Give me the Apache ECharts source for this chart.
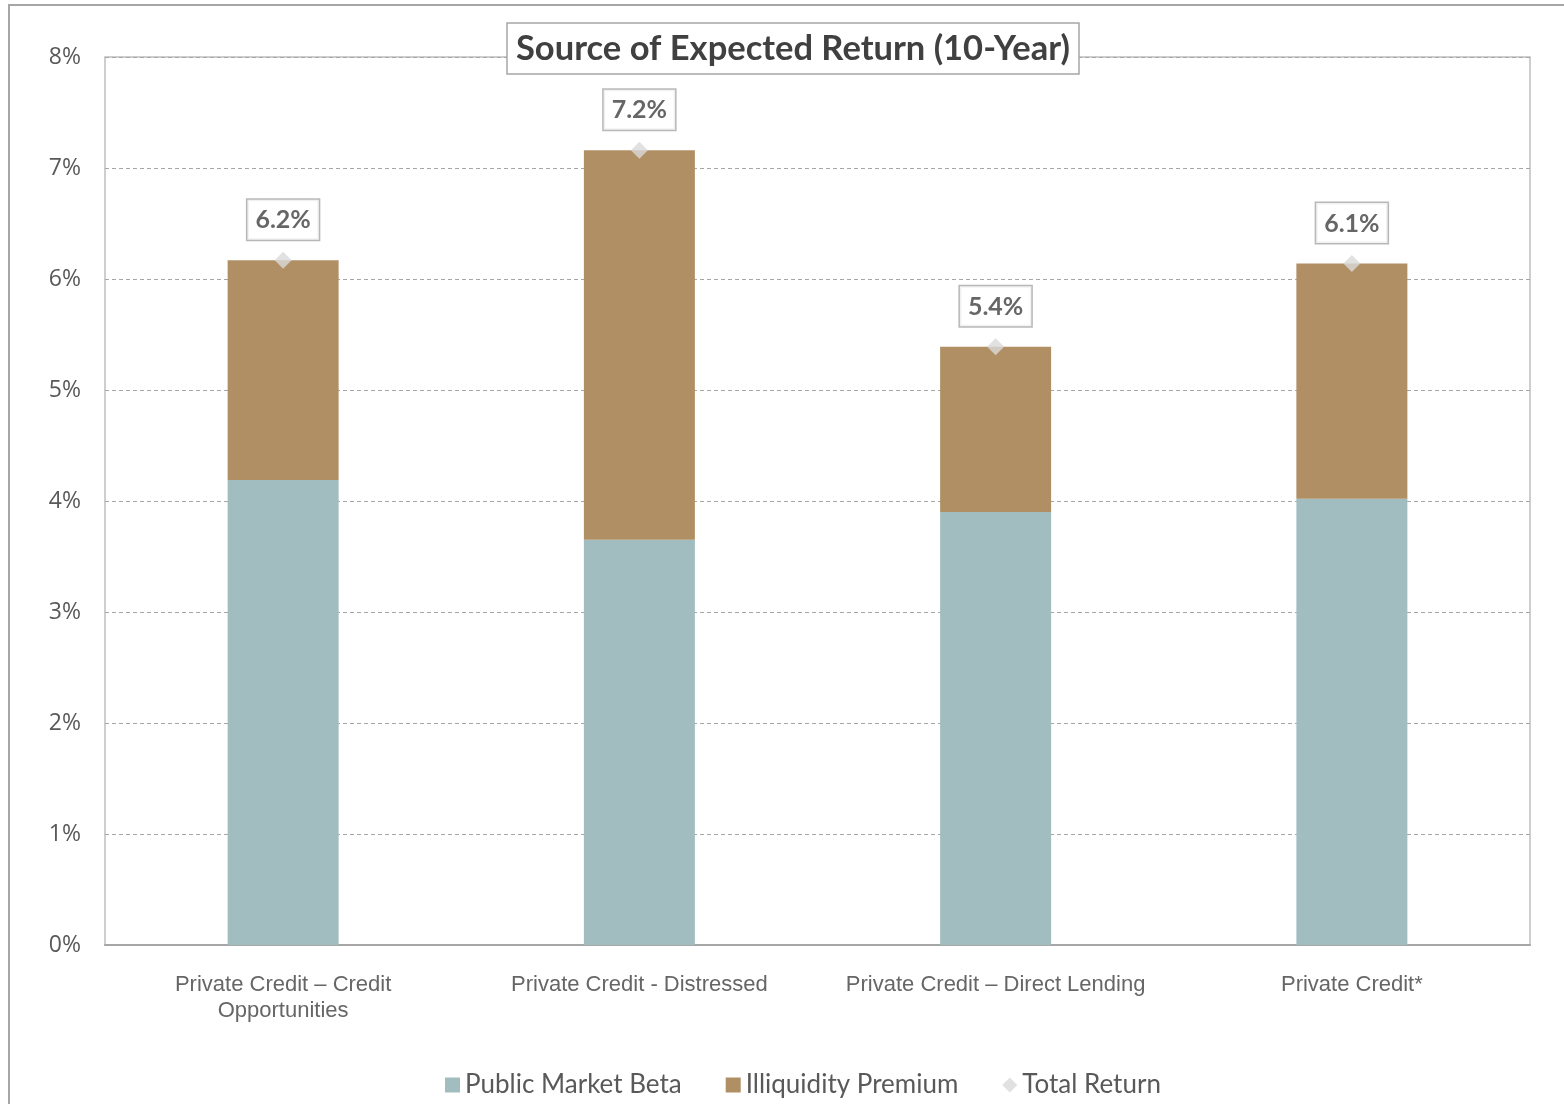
<!DOCTYPE html>
<html>
<head>
<meta charset="utf-8">
<script src="https://cdn.jsdelivr.net/npm/echarts@6/dist/echarts.min.js"></script>
<style>
html, body { margin: 0; padding: 0; background: #fff; }
#main { width: 1564px; height: 1104px; }
</style>
</head>
<body>
<div id="main"></div>
<script>
// categories and values (percent)
var categories = ['Private Credit – Credit\nOpportunities', 'Private Credit - Distressed', 'Private Credit – Direct Lending', 'Private Credit*'];
var publicBeta = [4.19, 3.65, 3.90, 4.02];
var illiqPremium = [1.98, 3.51, 1.49, 2.12];
var totalReturn = [6.17, 7.16, 5.39, 6.14];
var yTicks = [0, 1, 2, 3, 4, 5, 6, 7, 8];

var chart = echarts.init(document.getElementById('main'));

var option = {
	animation: false,
	backgroundColor: '#fff',
	// outer frame of the slide (cut at right/bottom)
	graphic: [{
		type: 'rect',
		shape: { x: 9, y: 5, width: 1600, height: 1200 },
		style: { fill: 'none', stroke: '#a6a6a6', lineWidth: 2 },
		z: -1
	}],
	title: {
		text: 'Source of Expected Return (10-Year)',
		left: 507,
		top: 23,
		padding: [8, 9, 8, 9],
		backgroundColor: '#fff',
		borderColor: '#a6a6a6',
		borderWidth: 1.5,
		textStyle: {
			fontFamily: 'Lato',
			fontWeight: 'bold',
			fontSize: 34.5,
			color: '#404040'
		},
		z: 10
	},
	legend: {
		bottom: 1,
		left: 440,
		itemGap: 44,
		itemWidth: 15,
		itemHeight: 15,
		textStyle: { fontFamily: 'Lato', fontSize: 26, color: '#595959' },
		data: [
			{ name: 'Public Market Beta', icon: 'rect' },
			{ name: 'Illiquidity Premium', icon: 'rect' },
			{ name: 'Total Return', icon: 'diamond', itemStyle: { color: '#d9d9d9' } }
		]
	},
	grid: {
		left: 105,
		right: 34,
		top: 57,
		bottom: 159,
		show: true,
		borderColor: '#bfbfbf',
		borderWidth: 1.5
	},
	xAxis: {
		type: 'category',
		data: categories,
		axisLine: { show: true, lineStyle: { color: '#a6a6a6', width: 2 } },
		axisTick: { show: false },
		axisLabel: {
			fontFamily: 'Liberation Sans',
			fontSize: 22,
			color: '#666',
			margin: 27,
			lineHeight: 26,
			interval: 0
		}
	},
	yAxis: {
		type: 'value',
		min: 0,
		max: 8,
		interval: 1,
		axisLine: { show: false },
		axisTick: { show: false },
		axisLabel: {
			fontFamily: 'Open Sans',
			fontSize: 23,
			color: '#595959',
			margin: 24,
			formatter: function (v) { return yTicks.indexOf(v) >= 0 ? v + '%' : ''; }
		},
		splitLine: { lineStyle: { color: '#a6a6a6', type: [4, 3], width: 1.2 } }
	},
	series: [{
		name: 'Public Market Beta',
		type: 'bar',
		stack: 'ret',
		barWidth: 111,
		data: publicBeta,
		itemStyle: { color: '#a1bdbf' }
	}, {
		name: 'Illiquidity Premium',
		type: 'bar',
		stack: 'ret',
		barWidth: 111,
		data: illiqPremium,
		itemStyle: { color: '#b08f64' }
	}, {
		name: 'Total Return',
		type: 'scatter',
		symbol: 'diamond',
		symbolSize: 17,
		data: totalReturn,
		itemStyle: { color: '#d9d9d9' },
		z: 5,
		label: {
			show: true,
			position: 'top',
			distance: 12,
			formatter: function (p) { return p.value.toFixed(1) + '%'; },
			fontFamily: 'Lato',
			fontWeight: 'bold',
			fontSize: 25,
			color: '#404040',
			backgroundColor: '#fff',
			borderColor: '#a6a6a6',
			borderWidth: 1.5,
			padding: [8, 8, 7, 8]
		}
	}]
};

chart.setOption(option);
</script>
</body>
</html>
